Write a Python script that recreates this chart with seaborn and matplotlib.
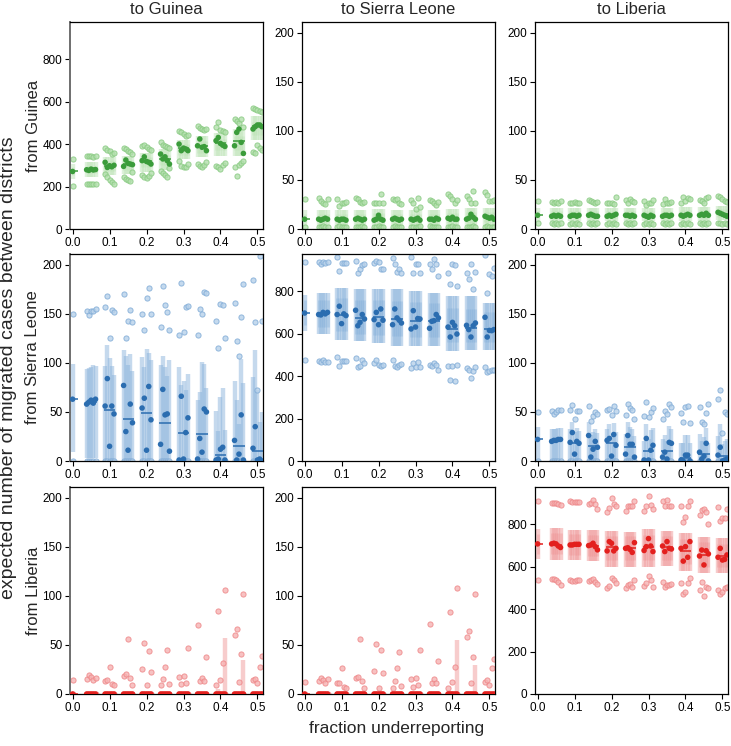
import numpy as np
import pandas as pd
import matplotlib
matplotlib.use("Agg")
import matplotlib.pyplot as plt
import seaborn as sns

# fraction underreporting groups; every group except 0.0 holds five runs
X_GROUPS = [0.0, 0.05, 0.1, 0.15, 0.2, 0.25, 0.3, 0.35, 0.4, 0.45, 0.5]
JITTER = [-0.012, -0.006, 0.0, 0.006, 0.012]

COUNTRIES = ["Guinea", "Sierra Leone", "Liberia"]

# ---- from Guinea, to Guinea
gg_med = [[271], [279, 276, 282, 278, 280], [314, 290, 298, 293, 300], [295, 325, 309, 306, 303],
          [322, 340, 318, 314, 306], [353, 330, 340, 322, 306], [400, 369, 381, 377, 369],
          [392, 424, 385, 388, 369], [416, 431, 403, 395, 389], [392, 455, 471, 408, 356],
          [471, 482, 490, 490, 482]]
gg_top = [[330], [342, 345, 342, 340, 344], [381, 372, 366, 353, 360], [381, 375, 368, 362, 355],
          [392, 398, 385, 378, 372], [411, 398, 392, 388, 380], [463, 455, 448, 440, 445],
          [486, 478, 470, 465, 472], [479, 502, 468, 460, 455], [518, 510, 498, 520, 480],
          [570, 565, 560, 555, 550]]
gg_bot = [[204], [212, 213, 211, 214, 212], [259, 243, 231, 220, 212], [243, 235, 231, 225, 270],
          [255, 245, 240, 250, 262], [272, 262, 255, 245, 285], [320, 297, 292, 290, 305],
          [305, 297, 290, 300, 315], [297, 290, 282, 300, 310], [290, 251, 300, 312, 320],
          [361, 358, 397, 380, 370]]
gg_bar_lo = [235, 245, 255, 260, 270, 280, 330, 340, 345, 345, 420]
gg_bar_hi = [305, 315, 340, 345, 360, 375, 420, 440, 450, 470, 530]
gg_box_lo = [255, 262, 275, 280, 290, 300, 350, 360, 370, 370, 445]
gg_box_hi = [290, 298, 320, 325, 340, 350, 400, 415, 425, 440, 505]

# ---- from Guinea, to Sierra Leone
gs_med = [[10], [10, 9, 10, 11, 10], [10, 9, 10, 10, 9], [10, 11, 10, 9, 10], [9, 10, 14, 10, 9],
          [10, 11, 10, 9, 10], [10, 9, 10, 11, 9], [10, 10, 9, 11, 10], [11, 10, 12, 10, 10],
          [10, 11, 15, 12, 10], [13, 12, 11, 12, 10]]
gs_top = [[31], [32, 29, 27, 25, 31], [31, 23, 27, 27, 28], [32, 31, 28, 27, 28], [27, 26, 26, 36, 27],
          [31, 30, 31, 26, 25], [30, 26, 20, 32, 22], [30, 29, 26, 24, 28], [36, 34, 31, 26, 30],
          [34, 31, 27, 39, 26], [38, 35, 29, 29, 30]]
gs_bot = [[2], [2, 2, 3, 2, 2], [2, 3, 2, 2, 2], [2, 2, 2, 3, 2], [2, 2, 3, 2, 2], [2, 3, 2, 2, 2],
          [2, 2, 2, 2, 3], [3, 2, 2, 2, 2], [2, 2, 3, 2, 2], [2, 2, 2, 3, 2], [2, 3, 2, 2, 2]]
gs_bar_lo = [3, 3, 3, 3, 3, 3, 3, 3, 3, 3, 3]
gs_bar_hi = [19, 19, 19, 19, 20, 19, 19, 19, 20, 21, 21]
gs_box_lo = [6, 6, 6, 6, 6, 6, 6, 6, 6, 6, 7]
gs_box_hi = [15, 15, 15, 15, 16, 15, 15, 15, 16, 17, 17]

# ---- from Guinea, to Liberia
gl_med = [[14], [13, 14, 13, 14, 13], [13, 14, 14, 13, 14], [14, 15, 14, 13, 13], [13, 14, 13, 14, 15],
          [14, 14, 13, 14, 13], [14, 13, 12, 14, 13], [13, 14, 14, 13, 14], [14, 13, 14, 15, 14],
          [14, 15, 14, 16, 14], [17, 16, 15, 14, 13]]
gl_top = [[29], [28, 27, 28, 26, 29], [26, 27, 28, 27, 26], [30, 29, 28, 27, 28], [26, 27, 26, 25, 33],
          [30, 27, 31, 29, 28], [29, 24, 27, 26, 30], [25, 31, 27, 26, 28], [27, 33, 29, 32, 31],
          [30, 29, 27, 32, 33], [34, 33, 31, 29, 28]]
gl_bot = [[6], [6, 5, 6, 5, 6], [5, 6, 5, 6, 5], [6, 5, 6, 5, 6], [5, 6, 5, 6, 5], [6, 5, 6, 5, 6],
          [5, 6, 5, 6, 5], [6, 5, 6, 5, 6], [5, 6, 5, 6, 5], [6, 5, 6, 5, 6], [6, 6, 5, 6, 5]]
gl_bar_lo = [8, 8, 8, 8, 8, 8, 8, 8, 8, 8, 9]
gl_bar_hi = [21, 21, 21, 21, 21, 21, 21, 21, 22, 22, 23]
gl_box_lo = [11, 11, 11, 11, 11, 11, 11, 11, 11, 11, 12]
gl_box_hi = [18, 18, 18, 18, 18, 18, 18, 18, 19, 19, 20]

# ---- from Sierra Leone, to Guinea
sg_med = [[63], [58, 60, 62, 59, 63], [56, 84, 15, 56, 48], [77, 30, 11, 58, 39], [54, 64, 11, 76, 42],
          [17, 73, 47, 48, 10], [1, 66, 2, 29, 44], [2, 23, 9, 53, 50], [1, 2, 12, 14, 1],
          [21, 1, 7, 47, 1], [13, 35, 1, 2, 0]]
sg_top = [[150], [153, 149, 153, 153, 155], [157, 168, 125, 154, 152], [170, 125, 143, 154, 142],
          [150, 134, 166, 176, 150], [137, 178, 159, 152, 134], [128, 181, 131, 157, 158],
          [128, 155, 150, 172, 171], [143, 115, 160, 159, 125], [161, 122, 107, 147, 180],
          [185, 142, 72, 209, 143]]
sg_bot = [[0], [0, 0, 0, 0, 0], [0, 0, 0, 0, 0], [0, 0, 0, 0, 0], [0, 0, 0, 0, 0], [0, 0, 0, 0, 0],
          [0, 0, 0, 0, 0], [0, 0, 0, 0, 0], [0, 0, 0, 0, 0], [0, 0, 0, 0, 0], [0, 0, 0, 0, 0]]
sg_bar_lo = [9, 3, 0, 0, 0, 0, 0, 0, 0, 0, 0]
sg_bar_hi = [[99], [94, 95, 96, 98, 97], [97, 118, 105, 97, 88], [113, 107, 98, 109, 92],
             [106, 96, 114, 110, 103], [98, 107, 96, 87, 103], [96, 77, 82, 72, 89],
             [62, 70, 101, 99, 74], [51, 31, 65, 74, 32], [82, 62, 38, 104, 79], [86, 113, 72, 40, 50]]

# ---- from Sierra Leone, to Sierra Leone
ss_med = [[697], [690, 688, 700, 693, 700], [690, 729, 647, 693, 685], [710, 637, 653, 690, 669],
          [666, 700, 642, 716, 663], [642, 716, 674, 663, 650], [622, 708, 631, 671, 669],
          [625, 658, 661, 690, 674], [631, 584, 653, 637, 598], [639, 619, 584, 637, 650],
          [677, 584, 615, 614, 619]]
ss_top = [[937], [935, 928, 937, 934, 937], [960, 895, 931, 931, 934], [942, 884, 903, 923, 926],
          [934, 942, 937, 903, 906], [958, 926, 890, 903, 884], [962, 887, 926, 926, 884],
          [926, 903, 950, 926, 871], [884, 832, 926, 921, 824], [887, 855, 926, 808, 890],
          [969, 792, 879, 871, 910]]
ss_bot = [[477], [469, 467, 477, 467, 467], [492, 448, 469, 469, 469], [484, 445, 448, 477, 461],
          [461, 477, 453, 448, 450], [477, 448, 445, 453, 456], [437, 461, 445, 464, 445],
          [453, 448, 461, 453, 429], [448, 382, 448, 377, 453], [437, 429, 390, 426, 442],
          [442, 421, 426, 429, 429]]
ss_bar_lo = [614, 600, 571, 563, 555, 540, 540, 540, 516, 524, 524]
ss_bar_hi = [784, 792, 816, 808, 808, 808, 800, 792, 776, 776, 745]
ss_box_lo = [640, 630, 610, 600, 595, 590, 585, 585, 560, 560, 560]
ss_box_hi = [760, 760, 770, 760, 760, 755, 750, 745, 720, 715, 700]

# ---- from Sierra Leone, to Liberia
sl_med = [[22], [20, 21, 21, 22, 22], [19, 29, 7, 20, 18], [26, 4, 12, 20, 14], [21, 23, 5, 27, 16],
          [7, 26, 17, 17, 4], [1, 23, 1, 11, 16], [4, 9, 2, 19, 18], [1, 0, 6, 6, 0], [9, 2, 5, 18, 0],
          [6, 14, 0, 1, 2]]
sl_top = [[50], [51, 48, 50, 52, 52], [52, 57, 43, 51, 51], [56, 41, 46, 50, 48], [52, 53, 47, 56, 51],
          [47, 58, 54, 52, 43], [46, 60, 45, 50, 54], [43, 51, 48, 58, 55], [49, 40, 55, 56, 39],
          [55, 40, 38, 49, 58], [63, 72, 29, 50, 48]]
sl_bot = [[0], [0, 0, 0, 0, 0], [0, 0, 0, 0, 0], [0, 0, 0, 0, 0], [0, 0, 0, 0, 0], [0, 0, 0, 0, 0],
          [0, 0, 0, 0, 0], [0, 0, 0, 0, 0], [0, 0, 0, 0, 0], [0, 0, 0, 0, 0], [0, 0, 0, 0, 0]]
sl_bar_lo = [0, 0, 0, 0, 0, 0, 0, 0, 0, 0, 0]
sl_bar_hi = [[35], [33, 33, 33, 34, 34], [33, 40, 30, 34, 31], [40, 26, 30, 33, 29], [33, 38, 25, 39, 30],
             [28, 40, 35, 33, 25], [20, 38, 22, 32, 34], [22, 27, 20, 36, 33], [18, 18, 26, 27, 18],
             [28, 20, 24, 34, 18], [25, 38, 17, 20, 22]]

# ---- from Liberia, to Guinea
lg_med = [[0], [0, 0, 0, 0, 0], [0, 0, 0, 0, 0], [0, 0, 0, 0, 0], [0, 0, 0, 0, 0], [0, 0, 0, 0, 0],
          [0, 0, 0, 0, 0], [0, 0, 0, 0, 0], [0, 0, 0, 0, 0], [0, 0, 0, 0, 0], [0, 0, 0, 0, 0]]
lg_top = [[14], [15, 19, 17, 14, 16], [13, 14, 28, 10, 9], [18, 20, 56, 16, 9], [25, 52, 9, 44, 22],
          [9, 15, 28, 45, 10], [17, 10, 18, 11, 47], [70, 13, 16, 13, 38], [9, 85, 14, 32, 106],
          [60, 66, 12, 41, 102], [14, 15, 11, 28, 39]]
lg_bar_hi = [[0], [0, 0, 0, 0, 0], [0, 0, 0, 0, 0], [0, 0, 0, 0, 0], [0, 0, 0, 0, 0], [0, 0, 0, 0, 0],
             [0, 0, 0, 0, 0], [0, 0, 0, 0, 0], [0, 5, 0, 0, 57], [0, 0, 0, 0, 35], [0, 0, 0, 0, 0]]

# ---- from Liberia, to Sierra Leone
ls_med = lg_med
ls_top = [[12], [13, 16, 14, 11, 15], [11, 11, 27, 7, 6], [16, 17, 56, 13, 6], [23, 51, 6, 45, 21],
          [6, 13, 27, 43, 8], [15, 7, 16, 9, 45], [71, 11, 15, 11, 34], [6, 84, 12, 28, 108],
          [58, 64, 11, 38, 102], [12, 14, 9, 26, 36]]
ls_bar_hi = [[0], [0, 0, 0, 0, 0], [0, 0, 0, 0, 0], [0, 0, 0, 0, 0], [0, 0, 0, 0, 0], [0, 0, 0, 0, 0],
             [0, 0, 0, 0, 0], [0, 0, 0, 0, 0], [0, 3, 0, 0, 55], [0, 0, 0, 0, 30], [0, 0, 0, 0, 0]]

# ---- from Liberia, to Liberia
ll_med = [[707], [707, 710, 707, 697, 690], [702, 702, 705, 705, 705], [699, 702, 710, 694, 679],
          [674, 718, 710, 674, 686], [686, 689, 681, 667, 713], [676, 694, 732, 697, 671],
          [697, 671, 718, 686, 683], [686, 626, 694, 644, 718], [650, 678, 608, 675, 660],
          [644, 686, 631, 634, 655]]
ll_top = [[907], [899, 899, 899, 896, 891], [907, 902, 902, 904, 904], [894, 899, 912, 896, 871],
          [855, 876, 923, 896, 884], [863, 887, 887, 884, 907], [860, 884, 934, 891, 871],
          [907, 887, 915, 887, 884], [884, 808, 836, 884, 907], [845, 868, 871, 855, 800],
          [879, 813, 831, 828, 871]]
ll_bot = [[537], [540, 540, 537, 529, 513], [537, 534, 534, 537, 537], [534, 537, 541, 529, 516],
          [500, 508, 545, 537, 521], [500, 513, 516, 505, 539], [508, 521, 555, 537, 505],
          [529, 503, 513, 513, 518], [521, 473, 481, 524, 546], [489, 529, 461, 505, 497],
          [489, 473, 481, 497, 505]]
ll_bar_lo = [634, 630, 630, 625, 600, 600, 600, 605, 580, 570, 570]
ll_bar_hi = [776, 781, 773, 773, 770, 765, 775, 770, 760, 740, 735]
ll_box_lo = [660, 658, 656, 650, 630, 630, 632, 632, 610, 600, 600]
ll_box_hi = [755, 758, 752, 750, 745, 742, 748, 745, 730, 715, 705]

ZERO = [0] * 11
PALETTE = {
    "green": {"dark": "#3b9c3b", "light": "#b2dfac", "edge": "#86c97f", "bar": "#bfe4b9"},
    "blue": {"dark": "#2b6db0", "light": "#b7d1ea", "edge": "#7eaad6", "bar": "#8db5dc"},
    "red": {"dark": "#e3201e", "light": "#f6b3b3", "edge": "#ee8486", "bar": "#f09a9b"},
}

PANELS = [
    [dict(med=gg_med, top=gg_top, bot=gg_bot, lo=gg_bar_lo, hi=gg_bar_hi, blo=gg_box_lo, bhi=gg_box_hi, col="green", big=True),
     dict(med=gs_med, top=gs_top, bot=gs_bot, lo=gs_bar_lo, hi=gs_bar_hi, blo=gs_box_lo, bhi=gs_box_hi, col="green", big=False),
     dict(med=gl_med, top=gl_top, bot=gl_bot, lo=gl_bar_lo, hi=gl_bar_hi, blo=gl_box_lo, bhi=gl_box_hi, col="green", big=False)],
    [dict(med=sg_med, top=sg_top, bot=sg_bot, lo=sg_bar_lo, hi=sg_bar_hi, col="blue", big=False),
     dict(med=ss_med, top=ss_top, bot=ss_bot, lo=ss_bar_lo, hi=ss_bar_hi, blo=ss_box_lo, bhi=ss_box_hi, col="blue", big=True),
     dict(med=sl_med, top=sl_top, bot=sl_bot, lo=sl_bar_lo, hi=sl_bar_hi, col="blue", big=False)],
    [dict(med=lg_med, top=lg_top, bot=lg_med, lo=ZERO, hi=lg_bar_hi, col="red", big=False),
     dict(med=ls_med, top=ls_top, bot=ls_med, lo=ZERO, hi=ls_bar_hi, col="red", big=False),
     dict(med=ll_med, top=ll_top, bot=ll_bot, lo=ll_bar_lo, hi=ll_bar_hi, blo=ll_box_lo, bhi=ll_box_hi, col="red", big=True)],
]


def per_sample(values, med):
    # group-level scalars are repeated for every run in the group
    out = []
    for v, m in zip(values, med):
        out.extend(v if isinstance(v, list) else [v] * len(m))
    return out


def sample_frame(p):
    xs, grp = [], []
    for g, m in zip(X_GROUPS, p["med"]):
        offs = [0.0] if len(m) == 1 else JITTER
        xs.extend(g + o for o in offs)
        grp.extend([g] * len(m))
    df = pd.DataFrame({"x": xs, "group": grp,
                       "med": per_sample(p["med"], p["med"]),
                       "top": per_sample(p["top"], p["med"]),
                       "bot": per_sample(p["bot"], p["med"]),
                       "lo": per_sample(p["lo"], p["med"]),
                       "hi": per_sample(p["hi"], p["med"])})
    if "blo" in p:
        df["blo"] = per_sample(p["blo"], p["med"])
        df["bhi"] = per_sample(p["bhi"], p["med"])
    return df


def draw_panel(ax, p):
    c = PALETTE[p["col"]]
    df = sample_frame(p)
    bars = df[df.hi > df.lo]
    ax.vlines(bars.x, bars.lo, bars.hi, color=c["bar"], alpha=0.5, lw=3.2, zorder=1)
    if "blo" in df:
        ax.vlines(df.x, df.blo, df.bhi, color=c["bar"], alpha=0.45, lw=2.0, zorder=1.5)
    for col in ["top", "bot"]:
        sns.scatterplot(data=df, x="x", y=col, ax=ax, color=c["light"], edgecolor=c["edge"],
                        linewidth=0.7, s=14, alpha=0.8, legend=False, zorder=2)
    sns.scatterplot(data=df, x="x", y="med", ax=ax, color=c["dark"], edgecolor="none",
                    s=16, legend=False, zorder=3)
    means = df.groupby("group")["med"].mean()
    ax.hlines(means.values, means.index - 0.015, means.index + 0.015, color=c["dark"], lw=1.1, zorder=4)

    ax.set_xlim(-0.007, 0.515)
    if p["big"]:
        ax.set_ylim(0, 975)
        ax.set_yticks([0, 200, 400, 600, 800])
    else:
        ax.set_ylim(0, 211)
        ax.set_yticks([0, 50, 100, 150, 200])
    ax.set_xticks([0.0, 0.1, 0.2, 0.3, 0.4, 0.5])
    ax.set_xticklabels(["0.0", "0.1", "0.2", "0.3", "0.4", "0.5"])
    ax.set_xlabel("")
    ax.set_ylabel("")
    ax.tick_params(direction="out", length=3.5, width=0.8, labelsize=8.5, pad=2, colors="black")
    for s in ax.spines.values():
        s.set_color("black")
        s.set_linewidth(0.9)


def main():
    sns.set_style("ticks")
    plt.rcParams["font.family"] = ["Liberation Sans", "DejaVu Sans"]
    W, H = 731, 746
    fig = plt.figure(figsize=(W / 100, H / 100), dpi=100)
    lefts = [70, 302, 535]
    tops = [22, 254, 487]
    pw, ph = 193, 207
    for r in range(3):
        for c in range(3):
            ax = fig.add_axes([lefts[c] / W, (H - tops[r] - ph) / H, pw / W, ph / H])
            draw_panel(ax, PANELS[r][c])
            if c == 0:
                ax.spines["left"].set_color("#6e6e6e")
                ax.spines["left"].set_linewidth(1.4)
                fig.text(33 / W, (H - tops[r] - ph / 2) / H, "from " + COUNTRIES[r], rotation=90,
                         ha="center", va="center", fontsize=12)
            if r == 0:
                fig.text((lefts[c] + pw / 2) / W, 1 - 9 / H, "to " + COUNTRIES[c],
                         ha="center", va="center", fontsize=12)
    fig.text(9 / W, (H - 368) / H, "expected number of migrated cases between districts",
             rotation=90, ha="center", va="center", fontsize=14)
    fig.text(397 / W, 1 - 728 / H, "fraction underreporting", ha="center", va="center", fontsize=12.5)
    fig.savefig("out.png", dpi=100)


if __name__ == "__main__":
    main()
